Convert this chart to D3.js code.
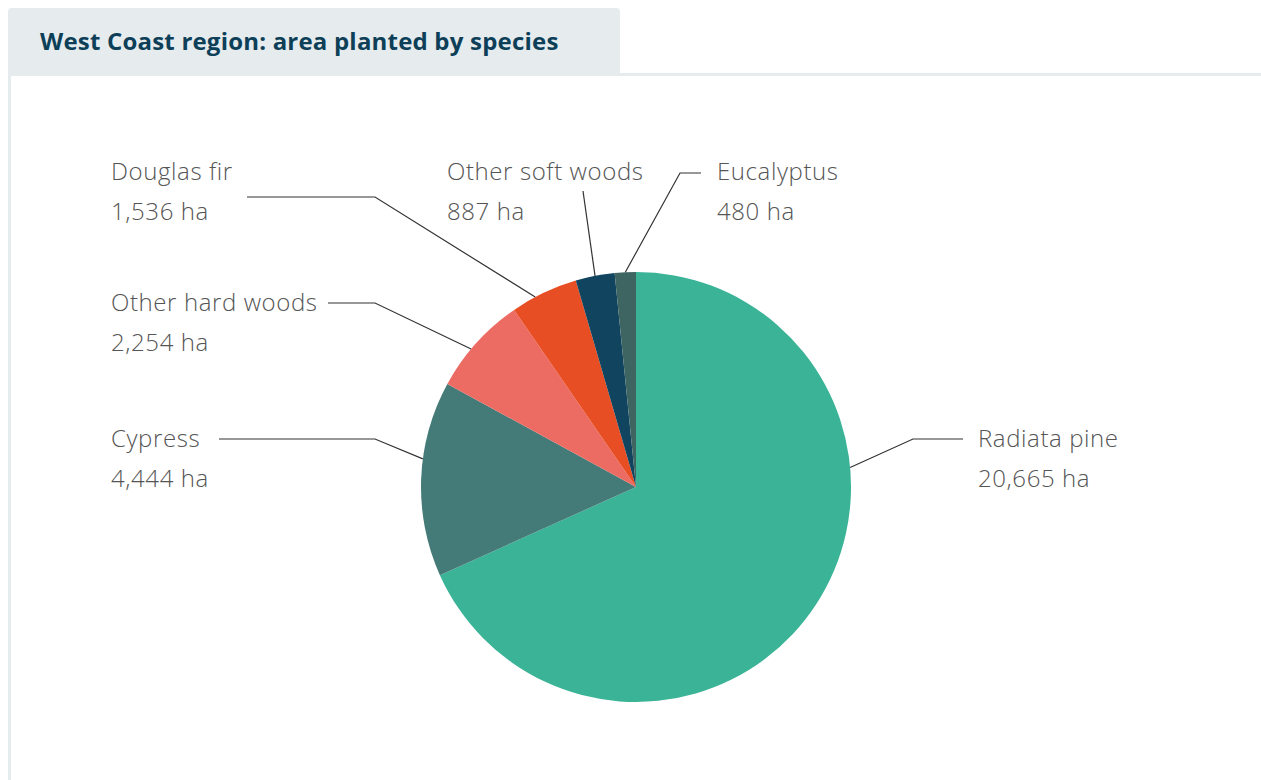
<!DOCTYPE html>
<html>
<head>
<meta charset="utf-8">
<script src="https://cdn.jsdelivr.net/npm/d3@7"></script>
<style>
  html, body { margin: 0; padding: 0; background: #fff; }
  svg { display: block; }
</style>
</head>
<body>
<div id="chart"></div>
<script>
var species = ['Radiata pine', 'Cypress', 'Other hard woods', 'Douglas fir', 'Other soft woods', 'Eucalyptus'];
var areas = [20665, 4444, 2254, 1536, 887, 480];
var colors = ['#3ab397', '#447a77', '#ec6b62', '#e84e24', '#10445f', '#3f6563'];
var title = 'West Coast region: area planted by species';

var width = 1261;
var height = 780;
var cx = 636, cy = 487, radius = 215;
var bg = '#e6ebee';

// label placement (page coords), connector goes label -> bend -> pie edge
var labelLayout = [
  { x: 978, y: 439, path: [[963, 439], [913, 439]], touch: 0.345 },
  { x: 111, y: 439, path: [[219, 439], [375, 439]], touch: 0.6 },
  { x: 111, y: 303, path: [[328, 303], [375, 303]], touch: 0.42 },
  { x: 111, y: 172, path: [[247, 197], [375, 197]], touch: 0.36 },
  { x: 447, y: 172, path: [[583, 191]], touch: 0.5 },
  { x: 717, y: 172, path: [[701, 173], [680, 173]], touch: 0.5 }
];

var svg = d3.select('#chart')
  .append('svg')
    .attr('width', width)
    .attr('height', height);

// panel frame + tab
svg.append('rect')
  .attr('x', 9.5).attr('y', 74.5)
  .attr('width', width + 10).attr('height', height)
  .attr('fill', 'none')
  .attr('stroke', bg)
  .attr('stroke-width', 3);

svg.append('path')
  .attr('d', 'M8,76 L8,12 Q8,8 12,8 L616,8 Q620,8 620,12 L620,76 Z')
  .attr('fill', bg);

svg.append('text')
  .attr('x', 40)
  .attr('y', 50)
  .attr('fill', '#0d3f58')
  .style('font-family', '"Open Sans", sans-serif')
  .style('font-weight', 700)
  .style('font-size', '24px')
  .style('letter-spacing', '0.2px')
  .text(title);

var data = species.map((s, i) => ({ name: s, value: areas[i], color: colors[i] }));

var pie = d3.pie()
  .sort(null)
  .value(d => d.value);

var arc = d3.arc()
  .innerRadius(0)
  .outerRadius(radius);

var arcs = pie(data);

var g = svg.append('g')
  .attr('transform', `translate(${cx}, ${cy})`);

g.selectAll('.slice')
  .data(arcs)
  .enter()
    .append('path')
    .attr('class', 'slice')
    .attr('fill', d => d.data.color)
    .attr('d', arc);

var fmt = d3.format(',');
var line = d3.line();

arcs.forEach((d, i) => {
  var lay = labelLayout[i];
  var a = d.startAngle + (d.endAngle - d.startAngle) * lay.touch;
  var edge = [cx + radius * Math.sin(a), cy - radius * Math.cos(a)];
  var pts = lay.path.concat([edge]);

  svg.append('path')
    .attr('d', line(pts))
    .attr('fill', 'none')
    .attr('stroke', '#333')
    .attr('stroke-width', 1.2);

  var t = svg.append('text')
    .attr('x', lay.x)
    .attr('y', lay.y)
    .attr('fill', '#555')
    .style('font-family', '"Open Sans", sans-serif')
    .style('font-weight', 300)
    .style('font-size', '24px')
    .style('letter-spacing', '0.6px');
  t.append('tspan')
    .attr('x', lay.x)
    .attr('dy', '0.35em')
    .text(d.data.name);
  t.append('tspan')
    .attr('x', lay.x)
    .attr('dy', 40)
    .text(fmt(d.data.value) + ' ha');
});
</script>
</body>
</html>
